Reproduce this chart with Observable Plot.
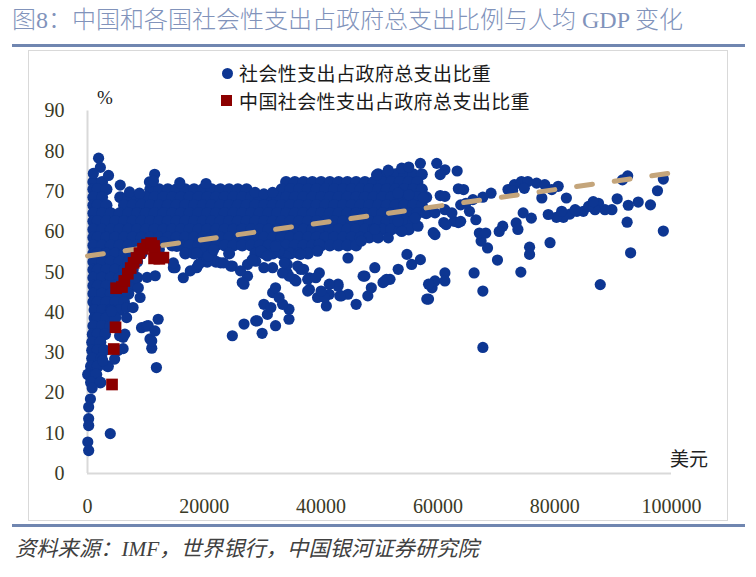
<!DOCTYPE html>
<html><head><meta charset="utf-8">
<script src="https://cdn.jsdelivr.net/npm/d3@7"></script>
<script src="https://cdn.jsdelivr.net/npm/@observablehq/plot@0.6"></script>
<style>
html,body{margin:0;padding:0;background:#fff;}
body{width:756px;height:577px;position:relative;overflow:hidden;font-family:"Noto Sans CJK SC",sans-serif;}
#title{position:absolute;left:12px;top:4px;font-family:"Liberation Serif","Noto Sans CJK SC",serif;font-weight:300;font-size:24px;color:#8193bb;white-space:nowrap;line-height:32px;}
.hr{position:absolute;left:12px;width:733px;height:3px;background:#7086b0;}
#frame{position:absolute;left:28px;top:50px;width:700px;height:471px;border:1px solid #d9d9d9;box-sizing:border-box;}
#chart{position:absolute;left:0;top:0;}
.legtxt{position:absolute;left:239px;font-size:19px;letter-spacing:0.4px;color:#1a1a1a;white-space:nowrap;line-height:20px;}
.mk{position:absolute;}
#pct{position:absolute;left:97px;top:86px;font-family:"Liberation Serif",serif;font-size:19px;color:#222;line-height:24px;}
#usd{position:absolute;left:670px;top:446px;font-size:19px;color:#222;line-height:24px;}
#src{position:absolute;left:15px;top:535px;font-family:"Liberation Serif","Noto Sans CJK SC",serif;font-style:italic;font-size:21.3px;color:#404040;white-space:nowrap;line-height:28px;}
</style></head>
<body>
<div id="title">图8：中国和各国社会性支出占政府总支出比例与人均 GDP 变化</div>
<div class="hr" style="top:44px"></div>
<div id="frame"></div>
<div id="chart"></div>
<div class="mk" style="left:222px;top:68px;width:11px;height:11px;border-radius:50%;background:#0d3692"></div>
<div class="legtxt" style="top:63px">社会性支出占政府总支出比重</div>
<div class="mk" style="left:221px;top:95px;width:11px;height:11px;background:#8c0000"></div>
<div class="legtxt" style="top:90.5px">中国社会性支出占政府总支出比重</div>
<div id="pct">%</div>
<div id="usd">美元</div>
<div class="hr" style="top:524px"></div>
<div id="src">资料来源：IMF，世界银行，中国银河证券研究院</div>
<script>
// x values in thousand USD (per-capita GDP), y values in % (social spending share)
const xTicks = [0, 20000, 40000, 60000, 80000, 100000];
const yTicks = [0, 10, 20, 30, 40, 50, 60, 70, 80, 90];

// dense band, row by row: share level and the GDP positions along it
const rowY = [74.3, 72.4, 70.6, 68.6, 66.6, 64.6, 62.6, 60.6, 58.6, 56.6, 54.6, 52.6, 50.6, 48.6, 46.6, 44.6, 42.6, 40.6, 38.6, 36.6, 34.6, 32.6, 30.6, 28.6, 26.6, 24.6, 22.6];
const rowX = [
  [49.75,51.25,52.75,54.25,55.75,57.25],
  [1.0,2.5,34.0,35.5,37.0,38.5,40.0,41.5,43.0,44.5,46.0,47.5,49.0,50.5,52.0,53.5,55.0,56.5],
  [1.0,1.75,3.25,10.75,12.25,13.75,15.25,16.75,18.25,19.75,21.25,22.75,24.25,25.75,27.25,33.25,34.75,36.25,37.75,39.25,40.75,42.25,43.75,45.25,46.75,48.25,49.75,51.25,52.75,54.25,55.75,57.25],
  [1.0,2.5,5.6,7.0,8.5,10.0,11.5,13.0,14.5,16.0,17.5,19.0,20.5,22.0,23.5,25.0,26.5,28.0,29.5,31.0,32.5,34.0,35.5,37.0,38.5,40.0,41.5,43.0,44.5,46.0,47.5,49.0,50.5,52.0,53.5,55.0,56.5,58.0],
  [1.0,1.75,3.25,6.25,7.75,9.25,10.75,12.25,13.75,15.25,16.75,18.25,19.75,21.25,22.75,24.25,25.75,27.25,28.75,30.25,31.75,33.25,34.75,36.25,37.75,39.25,40.75,42.25,43.75,45.25,46.75,48.25,49.75,51.25,52.75,54.25,55.75,57.25],
  [1.0,2.5,4.0,5.5,7.0,8.5,10.0,11.5,13.0,14.5,16.0,17.5,19.0,20.5,22.0,23.5,25.0,26.5,28.0,29.5,31.0,32.5,34.0,35.5,37.0,38.5,40.0,41.5,43.0,44.5,46.0,47.5,49.0,50.5,52.0,53.5,55.0,56.5,58.0],
  [1.0,1.75,3.25,4.75,6.25,7.75,9.25,10.75,12.25,13.75,15.25,16.75,18.25,19.75,21.25,22.75,24.25,25.75,27.25,28.75,30.25,31.75,33.25,34.75,36.25,37.75,39.25,40.75,42.25,43.75,45.25,46.75,48.25,49.75,51.25,52.75,54.25,55.75],
  [1.0,2.5,4.0,5.5,7.0,8.5,10.0,11.5,13.0,14.5,16.0,17.5,19.0,20.5,22.0,23.5,25.0,26.5,28.0,29.5,31.0,32.5,34.0,35.5,37.0,38.5,40.0,41.5,43.0,44.5,46.0,47.5,49.0,50.5,52.0,53.5,55.0],
  [1.0,1.75,3.25,4.75,6.25,7.75,9.25,10.75,12.25,13.75,15.25,16.75,18.25,19.75,21.25,22.75,24.25,25.75,27.25,28.75,30.25,31.75,33.25,34.75,36.25,37.75,39.25,40.75,42.25,43.75,45.25,46.75,48.25,49.75],
  [1.0,2.5,4.0,5.5,7.0,8.5,10.0,14.5,16.0,17.5,19.0,20.5,22.0,23.5,25.0,26.5,28.0,29.5,31.0,32.5,34.0,35.5,37.0,38.5,40.0,41.5,43.0,44.5,46.0],
  [1.0,1.75,3.25,4.75,6.25,7.75,9.25,16.75,18.25,19.75,21.25,24.25,28.75,30.25,31.75,33.25,34.75,36.25,37.75],
  [1.0,2.5,4.0,5.5,7.0,8.5,20.5,22.0],
  [1.0,1.75,3.25,4.75,6.25,7.75],
  [1.0,2.5,4.0,5.5,7.0,8.5],
  [1.0,1.75,3.25,4.75,6.25,7.75],
  [1.0,2.5,4.0,5.5,7.0],
  [1.0,1.75,3.25,4.75,6.25],
  [1.2,2.5,4.0,5.5],
  [1.2,1.75,3.25,4.75],
  [1.0,2.5,3.9],
  [0.9,1.75,3.0],
  [0.8,2.2],
  [0.8,1.75,2.9],
  [0.8,2.4],
  [0.6,1.75,3.5],
  [0.1,1.5],
  [0.6,2.2]
];

// individual points: top edge, low-income tail, middle scatter, rich countries
const blueTop = [[1.9,78.3],[2.2,76],[3.6,74],[1.0,74.5],[5.6,71.6],[11.5,74.3],[10.6,72.4],[11.3,72.6],[49.5,74.1],[51.5,75.3],[53.8,75.8],[55,76.1],[57,77],[59.8,77],[61.2,75.4],[63.3,75.1],[60.4,74.2],[7.2,69.9],[8.9,69.6],[28.7,69.8],[30.2,69.4],[31.7,69.8],[15.8,72.2],[20.3,72]];
const blueTail = [[0.8,21.2],[0.5,18.5],[0.2,16.5],[0.2,13.6],[0.2,11.9],[0.05,7.8],[0.2,5.7],[3.9,9.9]];
const blueLeft = [[5.5,34.2],[5.2,30.5],[4.65,28.4],[2.6,28],[6.1,31],[6.1,33.8],[4.1,40.3],[6.7,38.7],[6.4,34.6],[6.7,41.2],[7.8,41.2],[9.0,43.7],[8.7,46.1],[9.25,36.2],[10.1,36.6],[10.4,36.7],[12.1,38.3],[10.7,33.4],[11.0,31.1],[11.0,32.9],[11.8,26.3],[11.55,35.4],[8.2,48.6],[10.2,48.7],[11.6,49.1],[14.7,51.1],[16.4,48.6],[17.6,50.3],[19.3,52.3],[20.5,53.1],[15.0,51.1],[18.7,51.1],[14.7,52.3],[19.0,51.9],[20.7,54],[21.6,55.6],[15.3,56.4],[18.7,54.8],[12.3,55.6],[13.0,57.5]];
const blueMid = [[24.8,34.2],[26.8,37.1],[28.8,37.9],[29.9,34.8],[32.2,36.7],[34.5,38.3],[34.5,40.8],[33.4,42],[30.8,39.5],[30.2,42],[31.7,44.9],[32.2,46.1],[32.8,43.7],[31.4,41.2],[26.8,47],[27.4,49],[24.8,51.5],[27.4,51.9],[28.8,52.7],[30.2,51.1],[31.7,51.1],[34.2,49.8],[35.7,47.8],[36.5,50.7],[38,48.6],[39.7,49.8],[38,45.7],[39.4,43.7],[40.9,41.6],[41.4,44.5],[42.9,47],[43.5,44.1],[44.6,44.5],[46,42],[48,44.1],[48.6,46.1],[47.5,49],[49.2,51.1],[50.9,47.8],[51.8,48.2],[53.2,50.7],[54.7,54.4],[55.5,51.9],[57,53.1],[58.4,43.3],[59,46.1],[59.5,47.8],[39.7,56.9],[39.4,55.2],[44.6,53.5],[36.5,54.4],[34,54],[32.8,55.2],[29.7,55.2],[32.2,56.4],[22.8,52.3],[30.8,54],[46.9,57.7],[49.2,60.6],[51.5,58.5],[53.8,60.1],[56.6,61.4],[59.5,59.3],[53.2,62.6],[56.1,63.4],[59.5,64.7],[55,69.2],[53.2,69.6],[58.1,43.3],[58.4,47],[51.2,48.2],[50.6,47.4],[47.2,49],[43.2,44.1],[42.9,46.5],[41.4,47],[40.6,43.7],[40,45.3],[37.7,45.3],[37.7,48.2],[39.1,48.6],[35.4,48.2],[34.5,49],[33.4,49.8],[34.2,51.9],[29.1,37.9],[26.5,47.4],[24.5,51.5],[26.2,50.3],[28.2,53.1],[23.3,52.3],[33.7,52.3],[36,51.5],[37,50.7],[57.5,68.5],[60.4,69],[59.2,59.8],[61,62.3],[63.5,70.7],[63.5,62.3]];
const blueRight = [[64.4,70.5],[61.2,49.8],[61.2,47.8],[66.2,49.8],[67.7,45.3],[67.7,31.3],[74.2,50],[70.2,53],[87.8,46.9],[93,54.8],[98.6,60.2],[98.6,73.1],[97.6,70.2],[96.4,66.7],[94.3,67.4],[92.6,66.6],[92.4,62.4],[91.6,72.9],[92.5,73.9],[90.7,68.2],[89.8,65.5],[88.6,65.5],[87.5,67.1],[86.9,65.5],[84.9,65.1],[83.8,65.1],[82.6,64.4],[81.5,63.6],[80.3,63.6],[78.9,64.3],[79.2,57.3],[82,68.4],[77.8,68.4],[76,63.4],[74.6,64.7],[73.4,62.2],[73.7,60.6],[71.1,61.4],[70.5,60.1],[75.7,56.2],[75.7,54.4],[68.5,56],[67.4,57.7],[67.1,59.7],[68.2,59.7],[66.5,63],[65.4,65.1],[63.9,66.7],[62.8,62.6],[61.4,61.8],[63.9,62.6],[69.1,69.6],[67.7,68.6],[66,68],[64.8,67.1],[72,70.5],[73.1,71.7],[74.3,72.5],[75.4,72.5],[76.9,72.1],[78.3,71.7],[79.5,70.5],[80.6,71.3],[72.8,70.2],[74.8,70.8],[81.2,65.1],[83.5,65.5],[85.8,66.3],[86.6,67.5],[61.2,68.8],[61.2,65.5],[62.4,64.7]];

// China, one square per year
const china = [[4.2,22.1],[4.5,30.9],[4.8,36.3],[4.9,46],[5.9,46.3],[6.3,47.8],[6.9,49.6],[7.4,51],[7.9,52.3],[8.4,53.5],[8.9,54.7],[9.5,55.8],[10.2,56.8],[10.9,57.2],[11.4,56.5],[11.5,55],[11.4,53.4],[12.3,53.3],[13.0,53.6]];

// linear trend line end points
const trend = [[0, 54.0], [100, 74.6]];

const dense = rowY.flatMap((y, i) => rowX[i].map(x => [x, y]));
const scatter = [...blueTop, ...blueTail, ...blueLeft, ...blueMid, ...blueRight];

const chart = Plot.plot({
  width: 756, height: 577,
  marginLeft: 87, marginRight: 85, marginTop: 110.5, marginBottom: 104,
  x: {domain: [0, 100000], label: null},
  y: {domain: [0, 90], label: null},
  style: {background: "transparent", fontFamily: "Liberation Serif, serif", fontSize: "20px", color: "#3a3a26", overflow: "visible"},
  marks: [
    Plot.ruleX([0], {y1: 0, y2: 90, stroke: "#d9d9d9", strokeWidth: 2}),
    Plot.ruleY([0], {x1: 0, x2: 100000, stroke: "#d9d9d9", strokeWidth: 2}),
    Plot.axisY({ticks: yTicks, tickSize: 0, tickPadding: 23, tickFormat: d => String(d)}),
    Plot.axisX({ticks: xTicks, tickSize: 0, tickPadding: 25, tickFormat: d => String(d)}),
    Plot.dot(dense, {x: d => d[0] * 1000, y: d => d[1], r: 6.0, fill: "#0d3692"}),
    Plot.dot(scatter, {x: d => d[0] * 1000, y: d => d[1], r: 5.6, fill: "#0d3692"}),
    Plot.line(trend, {x: d => d[0] * 1000, y: d => d[1], stroke: "#c4a57b", strokeWidth: 5, strokeDasharray: "16 22", strokeLinecap: "round"}),
    Plot.dot(china, {x: d => d[0] * 1000, y: d => d[1], symbol: "square", r: 6.6, fill: "#8c0000"})
  ]
});
document.getElementById("chart").appendChild(chart);
</script>
</body></html>
